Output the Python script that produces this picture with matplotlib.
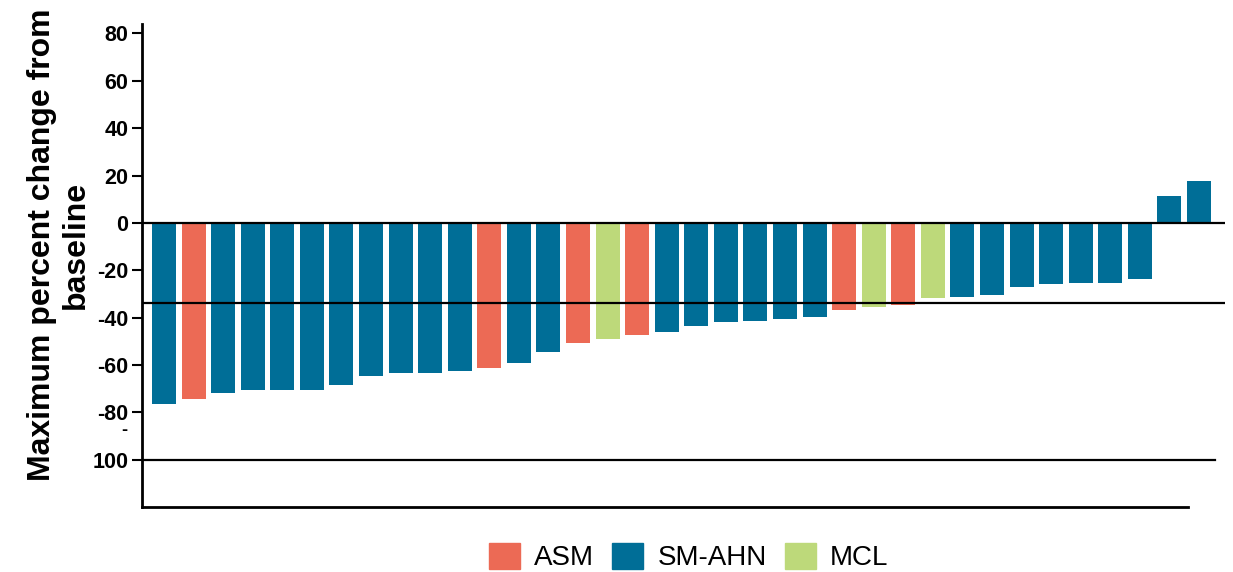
import matplotlib
matplotlib.use("Agg")
import matplotlib.pyplot as plt
from matplotlib.patches import Patch

plt.rcParams['font.family'] = ['Liberation Sans', 'DejaVu Sans']

# -----------------------------
# Data
# -----------------------------
groups = ["SM-AHN", "ASM", "SM-AHN", "SM-AHN", "SM-AHN", "SM-AHN", "SM-AHN",
          "SM-AHN", "SM-AHN", "SM-AHN", "SM-AHN", "ASM", "SM-AHN", "SM-AHN",
          "ASM", "MCL", "ASM", "SM-AHN", "SM-AHN", "SM-AHN", "SM-AHN",
          "SM-AHN", "SM-AHN", "ASM", "MCL", "ASM", "MCL", "SM-AHN", "SM-AHN",
          "SM-AHN", "SM-AHN", "SM-AHN", "SM-AHN", "SM-AHN", "SM-AHN", "SM-AHN"]
changes = [-76.6, -74.4, -71.8, -70.5, -70.5, -70.5, -68.4, -64.6, -63.5,
           -63.5, -62.6, -61.4, -59.3, -54.6, -50.8, -49.1, -47.4, -46.1,
           -43.6, -41.9, -41.5, -40.6, -39.8, -36.8, -35.6, -34.5, -31.7,
           -31.3, -30.5, -27.1, -25.8, -25.4, -25.4, -23.7, 11.4, 17.8]

legend_order = ["ASM", "SM-AHN", "MCL"]
palette = {"ASM": "#EC6A55", "SM-AHN": "#006E97", "MCL": "#BDD97A"}

yticks = [80, 60, 40, 20, 0, -20, -40, -60, -80, -100]
ytick_labels = ["80", "60", "40", "20", "0", "-20", "-40", "-60", "-80", "100"]
threshold = -34
floor = -100

# -----------------------------
# Figure
# -----------------------------
fig = plt.figure(figsize=(12.33, 5.72), dpi=100)
ax = fig.add_axes([0.1152, 0.1136, 0.8783, 0.8444])

x = list(range(len(changes)))
ax.bar(x, changes, width=0.81, color=[palette[g] for g in groups], zorder=2)

ax.axhline(0, color="black", lw=1.6, zorder=3)
ax.axhline(threshold, color="black", lw=1.6, zorder=3)
ax.axhline(floor, xmax=0.991, color="black", lw=1.6, zorder=3)

ax.set_xlim(-0.744, 35.88)
ax.set_ylim(-120, 84)

ax.spines["top"].set_visible(False)
ax.spines["right"].set_visible(False)
ax.spines["left"].set_linewidth(2.0)
ax.spines["bottom"].set_linewidth(2.0)
ax.spines["bottom"].set_bounds(-0.744, 34.63)

ax.set_xticks([])
ax.set_yticks(yticks)
ax.set_yticklabels(ytick_labels, fontsize=15.5, fontweight="bold")
ax.tick_params(axis="y", length=7, width=1.5, pad=3)

# the "-" of "-100" wraps onto its own line in the reference
ax.annotate("-", xy=(0, floor), xycoords=("axes fraction", "data"),
            xytext=(-10.5, 21), textcoords="offset points",
            ha="right", va="center", fontsize=13, fontweight="bold")

ax.set_ylabel("Maximum percent change from\nbaseline", fontsize=23,
              fontweight="bold", linespacing=1.2)
ax.yaxis.set_label_coords(-0.047, 0.542)

handles = [Patch(color=palette[g], label=g) for g in legend_order]
fig.legend(handles=handles, loc="center", bbox_to_anchor=(0.5585, 0.026),
           ncol=3, frameon=False, fontsize=20, handlelength=1.12,
           handleheight=1.05, handletextpad=0.5, columnspacing=0.65)

fig.savefig("out.png", dpi=100)
